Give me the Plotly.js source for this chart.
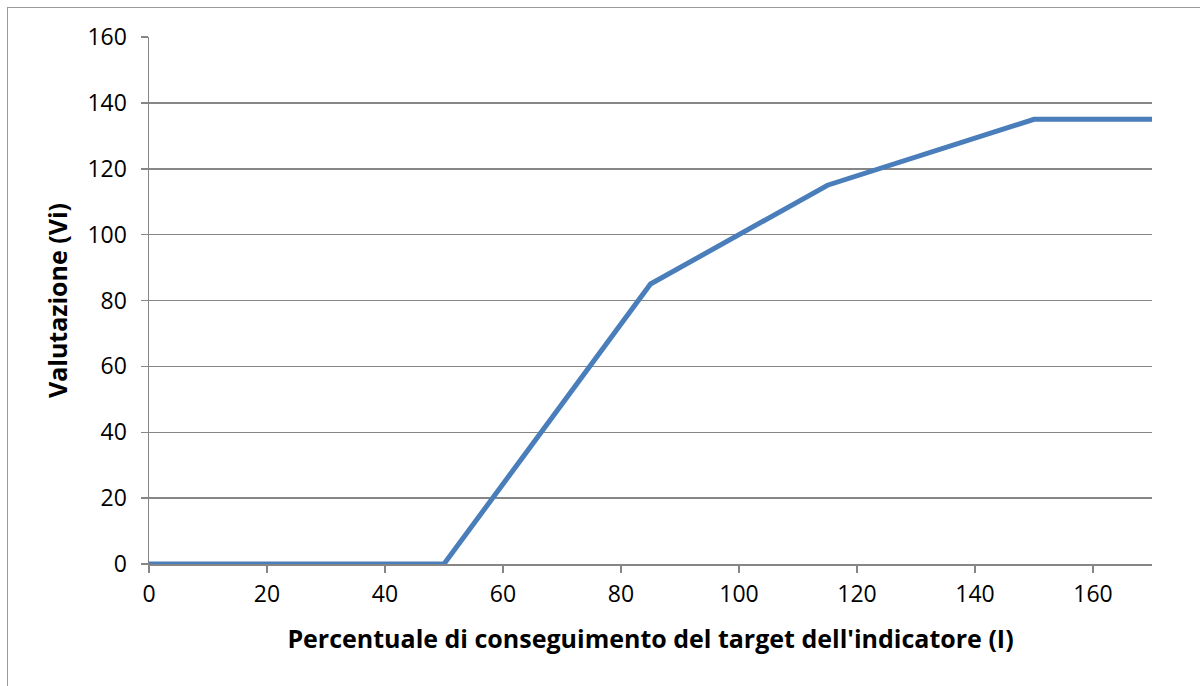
<!DOCTYPE html>
<html><head><meta charset="utf-8">
<script src="https://cdn.plot.ly/plotly-3.0.1.min.js"></script>
<style>html,body{margin:0;padding:0;background:#fff}#frame{position:absolute;left:7px;top:7px;width:1200px;height:700px;border-left:1.5px solid #9a9a9a;border-top:1.5px solid #9a9a9a;pointer-events:none}</style>
</head><body>
<div id="chart" style="width:1200px;height:686px"></div>
<div id="frame"></div>
<script>
const xValues = [0, 50, 85, 115, 150, 170];
const yValues = [0, 0, 85, 115, 135, 135];
const xTicks = [0, 20, 40, 60, 80, 100, 120, 140, 160];
const yTicks = [0, 20, 40, 60, 80, 100, 120, 140, 160];
const xTitle = "Percentuale di conseguimento del target dell'indicatore (I)";
const yTitle = "Valutazione (Vi)";

const font = '"Open Sans", "Noto Sans", sans-serif';
Plotly.newPlot('chart', [{
  x: xValues, y: yValues, type: 'scatter', mode: 'lines',
  line: {color: '#4a7ebb', width: 5}, hoverinfo: 'skip'
}], {
  width: 1200, height: 686,
  margin: {l: 149, r: 48, t: 37, b: 122},
  paper_bgcolor: '#fff', plot_bgcolor: '#fff',
  showlegend: false,
  font: {family: font, color: '#000', size: 23},
  xaxis: {
    range: [0, 170], tickvals: xTicks, ticks: 'outside', ticklen: 7, tickcolor: '#868686', tickwidth: 1.5,
    showgrid: false, zeroline: false, showline: true, linecolor: '#868686', linewidth: 1.5,
    tickfont: {size: 23, family: font}, ticklabelstandoff: 2,
    title: {text: '<b>' + xTitle + '</b>', font: {size: 25, family: font}, standoff: 22}
  },
  yaxis: {
    range: [0, 160], tickvals: yTicks, ticks: 'outside', ticklen: 7, tickcolor: '#868686', tickwidth: 1.5,
    showgrid: true, gridcolor: '#868686', gridwidth: 1.5, zeroline: false, showline: true, linecolor: '#868686', linewidth: 1.5,
    tickfont: {size: 23, family: font}, ticklabelstandoff: 9,
    title: {text: '<b>' + yTitle + '</b>', font: {size: 25, family: font}, standoff: 12}
  }
}, {staticPlot: true});
</script>
</body></html>
